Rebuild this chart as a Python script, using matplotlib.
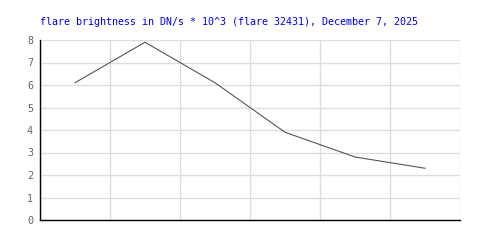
import matplotlib
matplotlib.use("Agg")
import matplotlib.pyplot as plt

# flare brightness values (DN/s * 10^3), one per time bin
positions = [0.5, 1.5, 2.5, 3.5, 4.5, 5.5]
brightness = [6.1, 7.9, 6.1, 3.9, 2.8, 2.3]
y_ticks = [0, 1, 2, 3, 4, 5, 6, 7, 8]
x_grid = [0, 1, 2, 3, 4, 5, 6]

fig = plt.figure(figsize=(5, 2.5), dpi=100)
ax = fig.add_axes([0.08, 0.12, 0.84, 0.72])

ax.plot(positions, brightness, color="#555555", linewidth=0.8)

ax.set_xlim(0, 6)
ax.set_ylim(0, 8)
ax.set_xticks(x_grid)
ax.set_xticklabels([])
ax.set_yticks(y_ticks)
ax.set_yticklabels([str(t) for t in y_ticks], family="DejaVu Sans Mono",
                   fontsize=7.3, color="#666666")
ax.tick_params(length=0, pad=5)
ax.grid(True, color="#dddddd", linewidth=1)
ax.set_axisbelow(True)

for s in ["top", "right"]:
    ax.spines[s].set_visible(False)
for s in ["left", "bottom"]:
    ax.spines[s].set_color("black")
    ax.spines[s].set_linewidth(1)

fig.text(0.08, 0.912, "flare brightness in DN/s * 10^3 (flare 32431), December 7, 2025",
         family="DejaVu Sans Mono", fontsize=7.2, color="#0000ee", va="center")

fig.savefig("out.png", dpi=100)
